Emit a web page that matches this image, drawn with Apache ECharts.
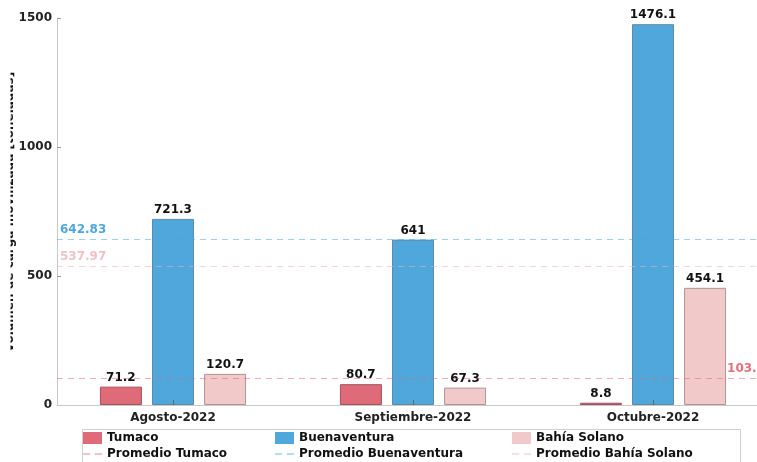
<!DOCTYPE html>
<html>
<head>
<meta charset="utf-8">
<script src="https://cdn.jsdelivr.net/npm/echarts@6/dist/echarts.min.js"></script>
<style>
  html, body { margin: 0; padding: 0; background: #fff; }
  #chart { width: 757px; height: 462px; }
</style>
</head>
<body>
<div id="chart"></div>
<script>
// ---- Data ----
const categories = ['Agosto-2022', 'Septiembre-2022', 'Octubre-2022'];
const tumaco = [71.2, 80.7, 8.8];
const buenaventura = [721.3, 641, 1476.1];
const bahiaSolano = [120.7, 67.3, 454.1];
const promedioTumaco = 103.9;
const promedioBuenaventura = 642.83;
const promedioBahiaSolano = 537.97;
const yTickValues = [0, 500, 1000, 1500];
const yAxisTitle = 'Volumen de carga movilizada [toneladas]';

// ---- Styles ----
const FONT = 'DejaVu Sans';
const cTumaco = '#DF6B79';
const cBuena = '#4FA7DB';
const cBahia = '#F1C9C9';
const catPositions = categories.map((c, i) => i + 1);

const chart = echarts.init(document.getElementById('chart'), null, { renderer: 'canvas' });

function barSeries(name, values, color, border) {
  return {
    name: name,
    type: 'bar',
    barWidth: 42,
    barGap: '24%',
    data: values.map((v, i) => [catPositions[i], v]),
    itemStyle: { color: color, borderColor: border, borderWidth: 1 },
    label: {
      show: true, position: 'top', distance: 3,
      fontFamily: FONT, fontWeight: 'bold', fontSize: 12, color: '#111',
      formatter: p => String(p.value[1])
    },
    z: 2
  };
}

function avgSeries(name, value, color, labelColor, pos, offset) {
  return {
    name: name,
    type: 'line',
    data: [],
    color: color,
    itemStyle: { color: color },
    z: 4,
    markLine: {
      silent: true,
      symbol: 'none',
      data: [{ yAxis: value }],
      lineStyle: { type: [6, 5], width: 1, color: color },
      label: {
        show: true, position: pos, distance: 3, offset: offset,
        formatter: String(value),
        fontFamily: FONT, fontWeight: 'bold', fontSize: 12, color: labelColor
      }
    }
  };
}

const dashIcon = 'path://M0,0h6v1.3h-6z M10,0h6v1.3h-6z';
const legendText = { fontFamily: FONT, fontWeight: 'bold', fontSize: 12, color: '#111' };
function legendCol(left, a, b) {
  return {
    orient: 'vertical', left: left, top: 432, height: 60,
    padding: 0,
    itemWidth: 19, itemHeight: 12, itemGap: 4,
    itemStyle: { borderWidth: 0 },
    textStyle: legendText,
    selectedMode: false,
    data: [{ name: a, icon: 'rect' }, { name: b, icon: dashIcon }]
  };
}

const option = {
  animation: false,
  backgroundColor: '#fff',
  grid: { left: 57, right: 0, top: 18, bottom: 57, containLabel: false },
  xAxis: {
    type: 'value',
    min: 0.5167,
    max: 3.4334,
    z: 10,
    splitLine: { show: false },
    axisLine: { show: true, lineStyle: { color: '#c8c8c8', width: 1 } },
    axisTick: { show: true, inside: true, length: 5, customValues: catPositions, lineStyle: { color: '#666' } },
    axisLabel: {
      customValues: catPositions,
      formatter: v => categories[Math.round(v) - 1] || '',
      fontFamily: FONT, fontWeight: 'bold', fontSize: 12, color: '#222', margin: 7
    }
  },
  yAxis: {
    type: 'value',
    min: yTickValues[0],
    max: yTickValues[yTickValues.length - 1],
    interval: 500,
    splitLine: { show: false },
    axisLine: { show: true, lineStyle: { color: '#c8c8c8', width: 1 } },
    axisTick: { show: true, inside: true, length: 4, lineStyle: { color: '#999' } },
    axisLabel: {
      formatter: v => String(v),
      fontFamily: FONT, fontWeight: 'bold', fontSize: 12, color: '#222', margin: 5
    }
  },
  legend: [
    legendCol(83, 'Tumaco', 'Promedio Tumaco'),
    legendCol(275, 'Buenaventura', 'Promedio Buenaventura'),
    legendCol(512, 'Bahía Solano', 'Promedio Bahía Solano')
  ],
  graphic: [
    {
      type: 'text', x: 9.5, y: 212, rotation: Math.PI / 2, z: 1,
      style: { text: yAxisTitle, textAlign: 'center', textVerticalAlign: 'middle',
               font: 'bold 12px "DejaVu Sans"', fill: '#111' }
    },
    {
      type: 'rect', z: 2, silent: true,
      shape: { x: 0, y: 40, width: 10.5, height: 350 },
      style: { fill: '#fff' }
    },
    {
      type: 'rect', z: 0, silent: true,
      shape: { x: 82.5, y: 429.5, width: 658, height: 45 },
      style: { fill: 'none', stroke: '#cfcfcf', lineWidth: 1 }
    }
  ],
  series: [
    barSeries('Tumaco', tumaco, cTumaco, '#a4505c'),
    barSeries('Buenaventura', buenaventura, cBuena, '#5f8aa6'),
    barSeries('Bahía Solano', bahiaSolano, cBahia, '#ad9595'),
    avgSeries('Promedio Tumaco', promedioTumaco, 'rgba(223,107,121,0.55)', '#E4707E', 'insideEndTop', [11, 0]),
    avgSeries('Promedio Buenaventura', promedioBuenaventura, 'rgba(79,167,219,0.55)', '#4FA7DB', 'insideStartTop', [0, 0]),
    avgSeries('Promedio Bahía Solano', promedioBahiaSolano, 'rgba(236,180,180,0.55)', '#F0C2C2', 'insideStartTop', [0, 0])
  ]
};

chart.setOption(option);
</script>
</body>
</html>
